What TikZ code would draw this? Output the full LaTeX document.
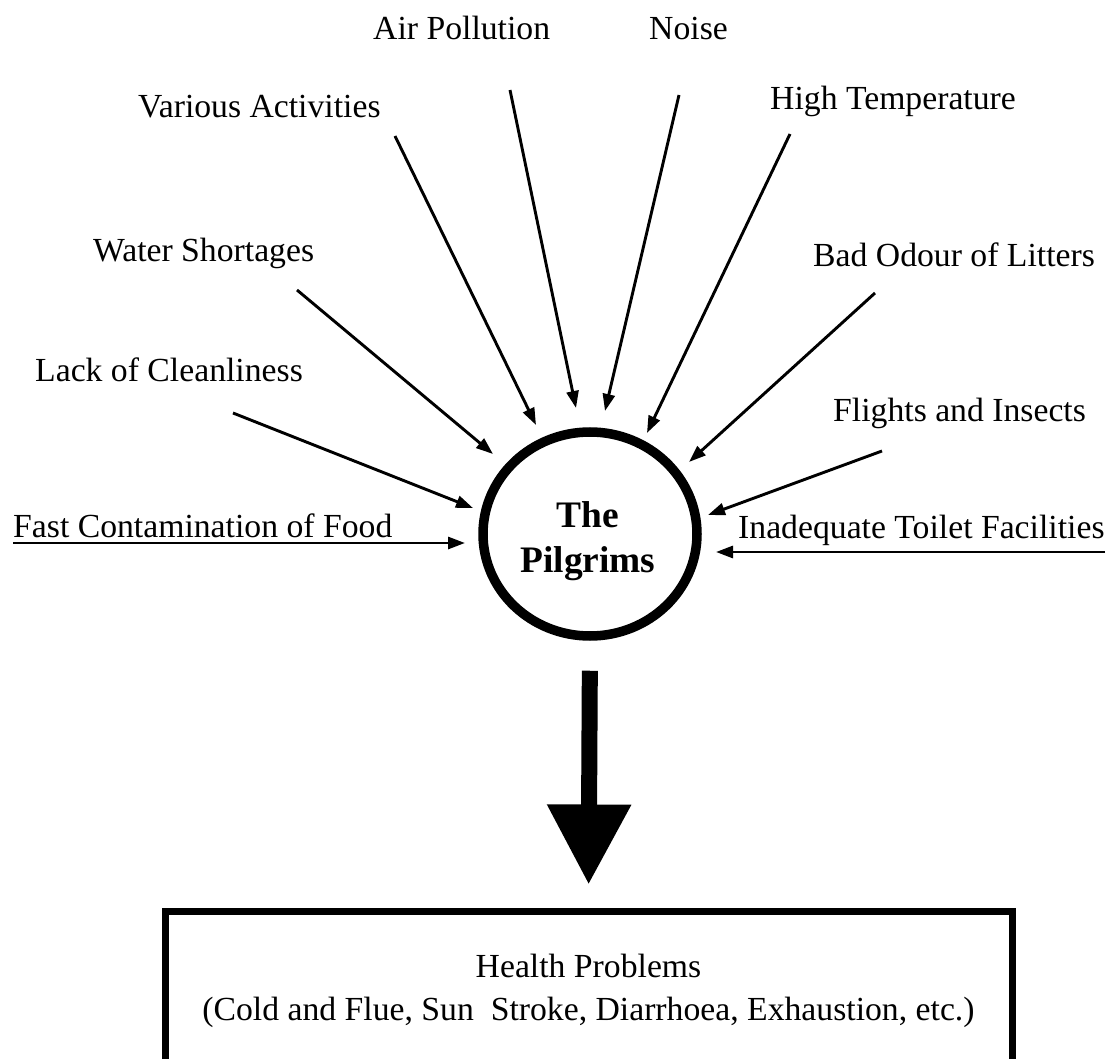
\documentclass[tikz,border=0pt]{standalone}
\usepackage{fontspec}
\setmainfont{Liberation Serif}
\usetikzlibrary{arrows.meta,shapes.geometric}
\begin{document}
\begin{tikzpicture}[x=1pt,y=-1pt,
  lbl/.style={inner sep=0pt, anchor=base west, font=\fontsize{33.7}{40}\selectfont},
  feed/.style={line width=2.9pt, -{Triangle[length=17pt,width=12pt]}},
]
\useasboundingbox[fill=white] (0,0) rectangle (1112,1059);

% central circle
\node[draw, line width=9.5pt, ellipse, minimum width=214pt, minimum height=204pt, inner sep=0pt] (pil) at (590,534) {};
\node[align=center, inner sep=0pt, font=\bfseries\fontsize{37.4}{45}\selectfont] (piltext) at (588,541) {The\\Pilgrims};

% labels
\node[lbl] (lAir) at (373,40) {Air Pollution};
\node[lbl] (lNoise) at (649,40) {Noise};
\node[lbl] (lVar) at (138,118) {Various Activities};
\node[lbl] (lHigh) at (770,110) {High Temperature};
\node[lbl] (lWater) at (93,262) {Water Shortages};
\node[lbl] (lBad) at (813,267) {Bad Odour of Litters};
\node[lbl] (lLack) at (35,382) {Lack of Cleanliness};
\node[lbl] (lFli) at (833,422) {Flights and Insects};
\node[lbl] (lFast) at (13,537) {Fast Contamination of Food};
\node[lbl] (lInad) at (738,538) {Inadequate Toilet Facilities};

% arrow ends
\coordinate (sAir) at (510,90);   \coordinate (tAir) at (576,408);
\coordinate (sNoise) at (679,95); \coordinate (tNoise) at (605,411);
\coordinate (sVar) at (395,136);  \coordinate (tVar) at (536,425);
\coordinate (sHigh) at (790,134); \coordinate (tHigh) at (647,433);
\coordinate (sWater) at (297,290);\coordinate (tWater) at (493,454);
\coordinate (sBad) at (875,293);  \coordinate (tBad) at (689,462);
\coordinate (sLack) at (233,413); \coordinate (tLack) at (473,508);
\coordinate (sFli) at (882,451);  \coordinate (tFli) at (708,515);
\coordinate (sFast) at (13,543);  \coordinate (tFast) at (465,543);
\coordinate (sInad) at (1105,552);\coordinate (tInad) at (716,552);

\foreach \n in {Air,Noise,Var,High,Water,Bad,Lack,Fli,Fast,Inad}
  \draw[feed] (s\n) -- (t\n);

% result box
\node[draw, line width=7pt, minimum width=847pt, minimum height=160pt, anchor=north,
      align=center, inner sep=0pt, font=\fontsize{33.7}{43}\selectfont] (box) at (588.5,907.5)
      {Health Problems\\(Cold and Flue, Sun~ Stroke, Diarrhoea, Exhaustion, etc.)};

% big arrow
\draw[line width=16pt, -{Triangle[length=80pt,width=80pt]}, shorten <=30pt, shorten >=23pt]
  (pil.south) -- (box.north);
\end{tikzpicture}
\end{document}
